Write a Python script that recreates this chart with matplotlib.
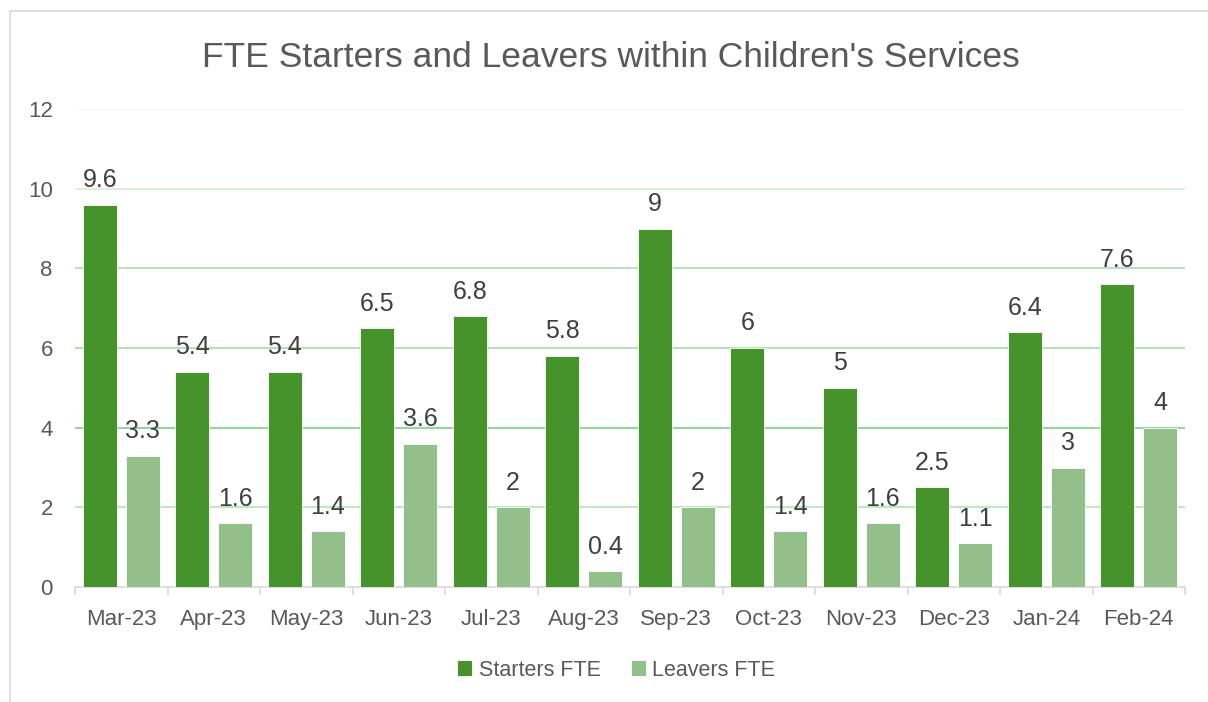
import matplotlib
matplotlib.use("Agg")
import matplotlib.pyplot as plt
import matplotlib.patches as mpatches
import numpy as np

# ─── Dados ───────────────────────────────────────────────────────────────────
months = ["Mar-23", "Apr-23", "May-23", "Jun-23", "Jul-23", "Aug-23",
          "Sep-23", "Oct-23", "Nov-23", "Dec-23", "Jan-24", "Feb-24"]
starters = [9.6, 5.4, 5.4, 6.5, 6.8, 5.8, 9, 6, 5, 2.5, 6.4, 7.6]
leavers = [3.3, 1.6, 1.4, 3.6, 2, 0.4, 2, 1.4, 1.6, 1.1, 3, 4]
y_ticks = [0, 2, 4, 6, 8, 10, 12]

# ─── Paleta ──────────────────────────────────────────────────────────────────
DARK = "#46922b"
LIGHT = "#93c08a"
TXT = "#595959"
AXIS = "#d9d9d9"
GRID = ["#d9d9d9", "#b4e8bb", "#7fd98f", "#a2e4ab", "#a9e6b2", "#d2f2d6", "#eefaef"]

plt.rcParams["font.family"] = ["Liberation Sans", "DejaVu Sans"]

fig = plt.figure(figsize=(12.08, 7.02), dpi=100)
fig.patch.set_facecolor("white")
ax = fig.add_axes([75 / 1208, 1 - 587 / 702, 1110 / 1208, 478 / 702])

x = np.arange(len(months))
w = 0.367
off = 0.232
b1 = ax.bar(x - off, starters, w, color=DARK, edgecolor="white", linewidth=0.6,
            label="Starters FTE", zorder=3)
b2 = ax.bar(x + off, leavers, w, color=LIGHT, edgecolor="white", linewidth=0.6,
            label="Leavers FTE", zorder=3)

for bars, vals in [(b1, starters), (b2, leavers)]:
    for r, v in zip(bars, vals):
        ax.annotate(f"{v:g}", (r.get_x() + r.get_width() / 2, v),
                    xytext=(0, 9), textcoords="offset points",
                    ha="center", va="bottom", fontsize=18, color="#404040",
                    zorder=5)

ax.set_xlim(-0.5, len(months) - 0.5)
ax.set_ylim(0, 12)
ax.set_yticks(y_ticks)
ax.set_yticklabels([str(t) for t in y_ticks])
for t, c in zip(y_ticks[1:], GRID[1:]):
    ax.axhline(t, color=c, linewidth=1.3, zorder=1)

ax.set_xticks(x)
ax.set_xticklabels(months)
ax.set_xticks(np.arange(-0.5, len(months)), minor=True)
ax.tick_params(axis="x", which="major", length=0, pad=16, labelsize=16,
               labelcolor=TXT)
ax.tick_params(axis="x", which="minor", length=6, color=AXIS, width=1.2)
ax.tick_params(axis="y", length=0, pad=16, labelsize=16, labelcolor=TXT)

for s in ["top", "right", "left"]:
    ax.spines[s].set_visible(False)
ax.spines["bottom"].set_color(AXIS)
ax.spines["bottom"].set_linewidth(1.2)

ax.set_title("FTE Starters and Leavers within Children's Services",
             fontsize=25.5, color=TXT, pad=30, x=0.483)

ax.legend(loc="center", bbox_to_anchor=(616 / 1208, 1 - 670 / 702),
          bbox_transform=fig.transFigure, ncol=2, frameon=False,
          fontsize=15.5, labelcolor=TXT, handlelength=0.7, handleheight=0.7,
          handletextpad=0.3, columnspacing=1.4)

# ─── Moldura ─────────────────────────────────────────────────────────────────
fig.add_artist(mpatches.Rectangle((10 / 1208, -0.05), 1.1, 1.05 - 11 / 702,
                                  transform=fig.transFigure, fill=False,
                                  edgecolor=AXIS, linewidth=1.2))

fig.savefig("out.png", dpi=100, facecolor="white")
